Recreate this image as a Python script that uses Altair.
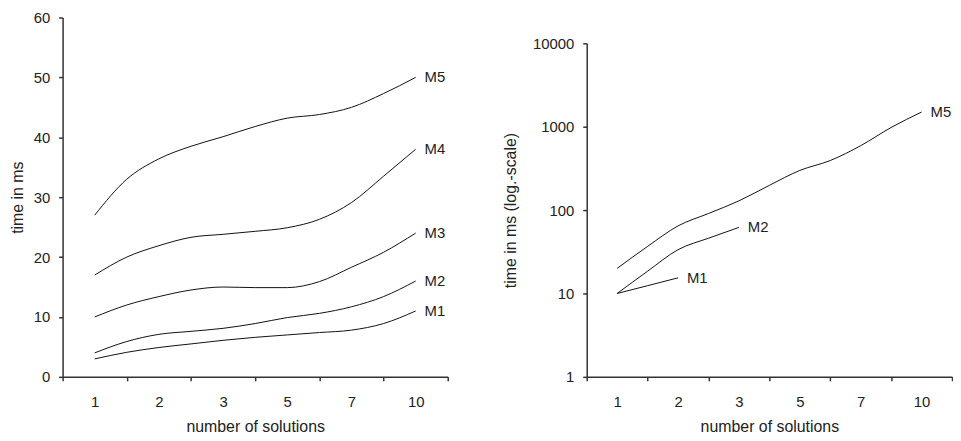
import altair as alt
import pandas as pd

# category labels of the x axis (evenly spaced categories)
x_labels = ["1", "2", "3", "5", "7", "10"]

# left panel: positions along the category axis (index, half steps)
left_pos = [0, 0.5, 1, 1.5, 2, 2.5, 3, 3.5, 4, 4.5, 5]
left_M1 = [3, 4.1, 4.9, 5.5, 6.1, 6.6, 7.0, 7.4, 7.8, 8.9, 11]
left_M2 = [4, 5.9, 7.1, 7.6, 8.1, 8.9, 9.9, 10.6, 11.7, 13.4, 16]
left_M3 = [10, 12, 13.4, 14.5, 15, 14.9, 14.9, 15.9, 18.3, 20.8, 24]
left_M4 = [17, 20, 21.9, 23.3, 23.8, 24.3, 24.9, 26.3, 29.1, 33.5, 38]
left_M5 = [27, 33, 36.4, 38.5, 40.1, 41.8, 43.2, 43.8, 45, 47.3, 50]

# right panel (log scale)
right_M1_pos = [0, 0.5, 1]
right_M1 = [10, 12.4, 15.4]
right_M2_pos = [0, 0.5, 1, 1.5, 2]
right_M2 = [10, 18.5, 33.5, 46, 62]
right_M5_pos = [0, 0.5, 1, 1.5, 2, 2.5, 3, 3.5, 4, 4.5, 5]
right_M5 = [20, 36.7, 64.6, 91, 129, 198, 299, 393, 592, 979, 1500]

left_ticks = [0, 10, 20, 30, 40, 50, 60]
right_ticks = [1, 10, 100, 1000, 10000]
band_bounds = [-0.5, 0.5, 1.5, 2.5, 3.5, 4.5, 5.5]

rows = []
for name, vals in [("M1", left_M1), ("M2", left_M2), ("M3", left_M3), ("M4", left_M4), ("M5", left_M5)]:
    for p, v in zip(left_pos, vals):
        rows.append({"series": name, "pos": p, "value": v})
left_df = pd.DataFrame(rows)

rows = []
for name, ps, vals in [("M1", right_M1_pos, right_M1), ("M2", right_M2_pos, right_M2), ("M5", right_M5_pos, right_M5)]:
    for p, v in zip(ps, vals):
        rows.append({"series": name, "pos": p, "value": v})
right_df = pd.DataFrame(rows)

FONT = "Liberation Sans"
TXT = "#222222"
AX = "#333333"
# label of each band is attached to the band's right boundary tick and shifted back by half a band
label_expr = ("datum.value < 0 ? '' : datum.value < 1 ? '" + x_labels[0]
              + "' : datum.value < 2 ? '" + x_labels[1] + "' : datum.value < 3 ? '" + x_labels[2]
              + "' : datum.value < 4 ? '" + x_labels[3] + "' : datum.value < 5 ? '" + x_labels[4]
              + "' : '" + x_labels[5] + "'")


def x_enc(band_px):
    return alt.X(
        "pos:Q",
        scale=alt.Scale(domain=[-0.5, 5.5], nice=False, zero=False),
        axis=alt.Axis(
            values=band_bounds,
            labelExpr=label_expr,
            labelOffset=-band_px / 2,
            labelFlush=False,
            labelOverlap=False,
            grid=False,
            title="number of solutions",
            tickSize=4,
            labelPadding=14,
            titlePadding=9,
        ),
    )


def y_axis(title, vals, title_pad, fmt=None):
    kw = dict(values=vals, grid=False, title=title, tickSize=4, labelPadding=9, titlePadding=title_pad)
    if fmt:
        kw["format"] = fmt
    return alt.Axis(**kw)


LW, LH = 388, 362
RW = 368
R_TOP = 26

left_lines = alt.Chart(left_df).mark_line(interpolate="monotone", color="#111111", strokeWidth=1).encode(
    x=x_enc(LW / 6),
    y=alt.Y("value:Q", scale=alt.Scale(domain=[0, 60], nice=False), axis=y_axis("time in ms", left_ticks, 8)),
    detail="series:N",
)
left_labels = alt.Chart(left_df).transform_filter("datum.pos == 5").mark_text(
    align="left", baseline="middle", dx=9, font=FONT, fontSize=15, color=TXT
).encode(x="pos:Q", y="value:Q", text="series:N")
left = alt.layer(left_lines, left_labels).properties(width=LW, height=LH)

right_lines = alt.Chart(right_df).mark_line(interpolate="monotone", color="#111111", strokeWidth=1).encode(
    x=x_enc(RW / 6),
    y=alt.Y(
        "value:Q",
        scale=alt.Scale(type="log", domain=[1, 10000], nice=False, range=[LH, R_TOP]),
        axis=y_axis("time in ms (log.-scale)", right_ticks, 14, "d"),
    ),
    detail="series:N",
)
right_end = right_df.groupby("series").tail(1)
right_labels = alt.Chart(right_end).mark_text(
    align="left", baseline="middle", dx=9, font=FONT, fontSize=15, color=TXT
).encode(x="pos:Q", y="value:Q", text="series:N")
right = alt.layer(right_lines, right_labels).properties(width=RW, height=LH)

chart = alt.hconcat(left, right, spacing=54).properties(
    padding={"left": 1, "top": 1, "right": 0, "bottom": 0},
    background="white",
).configure_view(stroke=None).configure_axis(
    domainColor=AX, domainWidth=1.5, tickColor=AX, tickWidth=1.5,
    labelFont=FONT, labelFontSize=15, labelColor=TXT,
    titleFont=FONT, titleFontSize=16, titleColor=TXT, titleFontWeight="normal",
)

chart.save("out.html", embed_options={"renderer": "svg", "actions": False})
